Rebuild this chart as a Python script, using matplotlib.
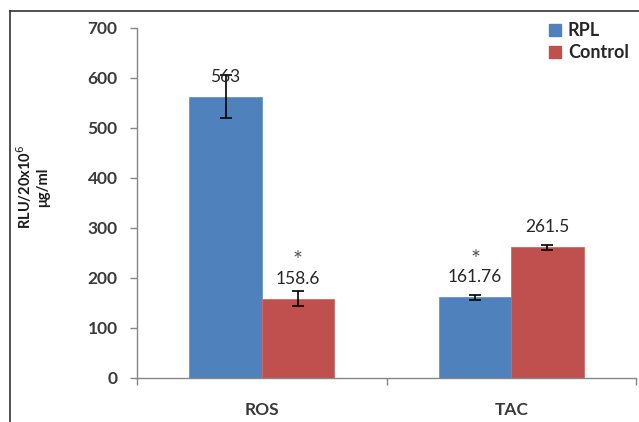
"""Grouped bar chart of ROS and TAC for RPL vs Control."""

import matplotlib
import matplotlib.pyplot as plt
import numpy as np
from matplotlib.lines import Line2D

matplotlib.use("Agg")

categories = ["ROS", "TAC"]
series_names = ["RPL", "Control"]
rpl_values = [563, 161.76]
control_values = [158.6, 261.5]
rpl_errors = [43, 5]
control_errors = [15, 5]
rpl_labels = ["563", "161.76"]
control_labels = ["158.6", "261.5"]
# significance markers drawn above the label of each bar
rpl_star = [False, True]
control_star = [True, False]
y_ticks = [0, 100, 200, 300, 400, 500, 600, 700]

BLUE = "#4F81BD"
RED = "#C0504D"
AXIS_GRAY = "#868686"
TEXT = "#262626"

plt.rcParams["font.family"] = ["Lato", "DejaVu Sans"]

W, H = 639, 422
fig = plt.figure(figsize=(W / 100, H / 100), dpi=100)
ax = fig.add_axes([137 / W, (H - 378) / H, (636 - 137) / W, (378 - 28) / H])

x = np.arange(len(categories))
width = 0.29

bars_rpl = ax.bar(x - width / 2, rpl_values, width, color=BLUE,
                  edgecolor="#6A96CC", linewidth=0.6, zorder=2)
bars_ctl = ax.bar(x + width / 2, control_values, width, color=RED,
                  edgecolor="#D06A67", linewidth=0.6, zorder=2)

for bars, errs in ((bars_rpl, rpl_errors), (bars_ctl, control_errors)):
    cx = [b.get_x() + b.get_width() / 2 for b in bars]
    hs = [b.get_height() for b in bars]
    ax.errorbar(cx, hs, yerr=errs, fmt="none", ecolor="black",
                elinewidth=1.2, capsize=4, capthick=1.2, zorder=4)


def annotate(bars, labels, stars):
    for b, lab, star in zip(bars, labels, stars):
        cx = b.get_x() + b.get_width() / 2
        top = b.get_height()
        ax.annotate(lab, (cx, top), xytext=(0, 20), textcoords="offset pixels",
                    ha="center", va="center", fontsize=12.5, color=TEXT, zorder=5)
        if star:
            ax.annotate("*", (cx, top), xytext=(0, 38),
                        textcoords="offset pixels", ha="center", va="center",
                        fontsize=17, color="#555555", zorder=5)


annotate(bars_rpl, rpl_labels, rpl_star)
annotate(bars_ctl, control_labels, control_star)

ax.set_xlim(-0.5, len(categories) - 0.5)
ax.set_ylim(0, 700)
ax.set_yticks(y_ticks)
ax.set_yticklabels([str(t) for t in y_ticks], fontsize=12.5, fontweight="bold",
                   color="#3a3a3a")
ax.set_xticks(x)
ax.set_xticklabels(categories, fontsize=12.5, fontweight="bold", color="#3a3a3a")
ax.set_xticks(np.arange(len(categories) + 1) - 0.5, minor=True)
ax.tick_params(axis="x", which="major", length=0, pad=17)
ax.tick_params(axis="x", which="minor", length=5, color=AXIS_GRAY, width=1)
ax.tick_params(axis="y", length=5, color=AXIS_GRAY, width=1, pad=9)

for side in ("top", "right"):
    ax.spines[side].set_visible(False)
for side in ("left", "bottom"):
    ax.spines[side].set_color(AXIS_GRAY)
    ax.spines[side].set_linewidth(1)

fig.text(32 / W, 1 - 187 / H, "RLU/20x10$^{6}$\nμg/ml", rotation=90,
         ha="center", va="center", fontsize=10.5, fontweight="bold",
         color="#1a1a1a", linespacing=1.2)

handles = [
    Line2D([], [], marker="s", linestyle="none", markersize=8,
           markerfacecolor=BLUE, markeredgecolor=BLUE),
    Line2D([], [], marker="s", linestyle="none", markersize=8,
           markerfacecolor=RED, markeredgecolor=RED),
]
fig.legend(handles, series_names, loc="upper left",
           bbox_to_anchor=(549 / W, 1 - 22 / H), frameon=False,
           prop={"size": 13, "weight": "bold"}, handlelength=0.7,
           handletextpad=0.35, labelspacing=0.3, borderpad=0,
           borderaxespad=0, labelcolor="#262626")

# outer frame of the picture (top and left edges only are visible)
fig.add_artist(Line2D([10 / W, 10 / W], [0, 1 - 11 / H], color="#333333",
                      linewidth=1.2, transform=fig.transFigure))
fig.add_artist(Line2D([10 / W, 1], [1 - 11 / H, 1 - 11 / H], color="#333333",
                      linewidth=1.2, transform=fig.transFigure))

fig.savefig("out.png", dpi=100)
plt.close(fig)
